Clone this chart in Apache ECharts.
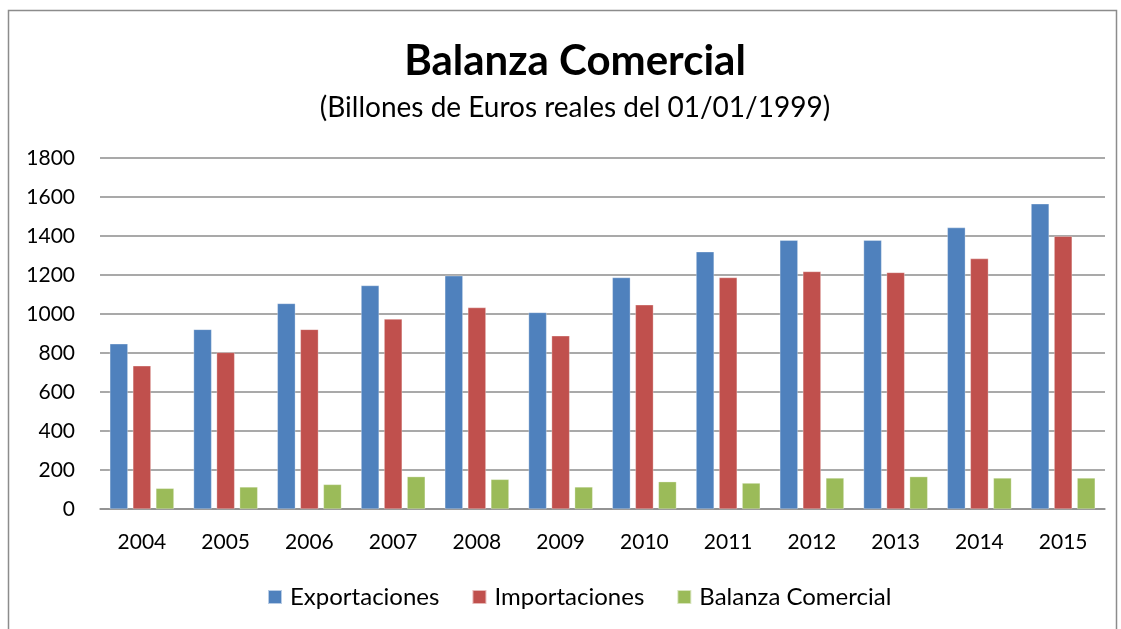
<!DOCTYPE html>
<html>
<head>
<meta charset="utf-8">
<script src="https://cdn.jsdelivr.net/npm/echarts@6/dist/echarts.min.js"></script>
<style>
  html, body { margin: 0; padding: 0; background: #fff; }
  #chart { width: 1121px; height: 629px; }
</style>
</head>
<body>
<div id="chart"></div>
<script>
// datos
const years = ["2004", "2005", "2006", "2007", "2008", "2009", "2010", "2011", "2012", "2013", "2014", "2015"];
const exportaciones = [847, 921, 1054, 1146, 1196, 1008, 1187, 1319, 1378, 1378, 1443, 1565];
const importaciones = [734, 803, 921, 974, 1033, 888, 1047, 1187, 1218, 1213, 1284, 1399];
const balanza = [106, 113, 126, 166, 152, 113, 140, 133, 159, 166, 159, 159];

const font = "Lato, 'Open Sans', sans-serif";

const chart = echarts.init(document.getElementById("chart"));

const barStyle = (color) => ({
  color: color,
  borderColor: "rgba(255,255,255,0.6)",
  borderWidth: 0.5,
});

const options = {
  animation: false,
  backgroundColor: "#fff",
  title: {
    text: "Balanza Comercial",
    subtext: "(Billones de Euros reales del 01/01/1999)",
    left: 570,
    textAlign: "center",
    top: 35,
    itemGap: 12,
    textStyle: { fontFamily: font, fontSize: 42, fontWeight: "bold", color: "#000" },
    subtextStyle: { fontFamily: font, fontSize: 28, color: "#000" },
  },
  // marco del grafico
  graphic: [
    {
      type: "rect",
      shape: { x: 8.5, y: 10.5, width: 1108, height: 640 },
      style: { fill: "none", stroke: "#8c8c8c", lineWidth: 1.5 },
      silent: true,
    },
  ],
  legend: {
    bottom: 15,
    left: 262,
    width: 850,
    itemWidth: 14,
    itemHeight: 14,
    itemGap: 32,
    icon: "rect",
    textStyle: { fontFamily: font, fontSize: 24, color: "#000", padding: [0, 0, 0, 3] },
    data: ["Exportaciones", "Importaciones", "Balanza Comercial"],
  },
  grid: {
    left: 100,
    right: 16,
    top: 158,
    bottom: 120,
  },
  xAxis: {
    type: "category",
    data: years,
    axisTick: { show: false },
    axisLine: { lineStyle: { color: "#8c8c8c", width: 1.5 } },
    axisLabel: { fontFamily: font, fontSize: 21, color: "#000", margin: 23 },
  },
  yAxis: {
    type: "value",
    min: 0,
    max: 1800,
    interval: 200,
    axisLine: { show: false },
    axisTick: { show: false },
    axisLabel: {
      fontFamily: font,
      fontSize: 21,
      color: "#000",
      margin: 25,
      formatter: (v) => String(v),
    },
    splitLine: { lineStyle: { color: "#8c8c8c", width: 1.5 } },
  },
  series: [
    {
      name: "Exportaciones",
      type: "bar",
      barWidth: 18,
      barGap: "28%",
      itemStyle: barStyle("#4F81BD"),
      data: exportaciones,
    },
    {
      name: "Importaciones",
      type: "bar",
      barWidth: 18,
      barGap: "28%",
      itemStyle: barStyle("#C0504D"),
      data: importaciones,
    },
    {
      name: "Balanza Comercial",
      type: "bar",
      barWidth: 18,
      barGap: "28%",
      itemStyle: barStyle("#9BBB59"),
      data: balanza,
    },
  ],
};

chart.setOption(options);

window.addEventListener("resize", () => {
  chart.resize();
});
</script>
</body>
</html>
